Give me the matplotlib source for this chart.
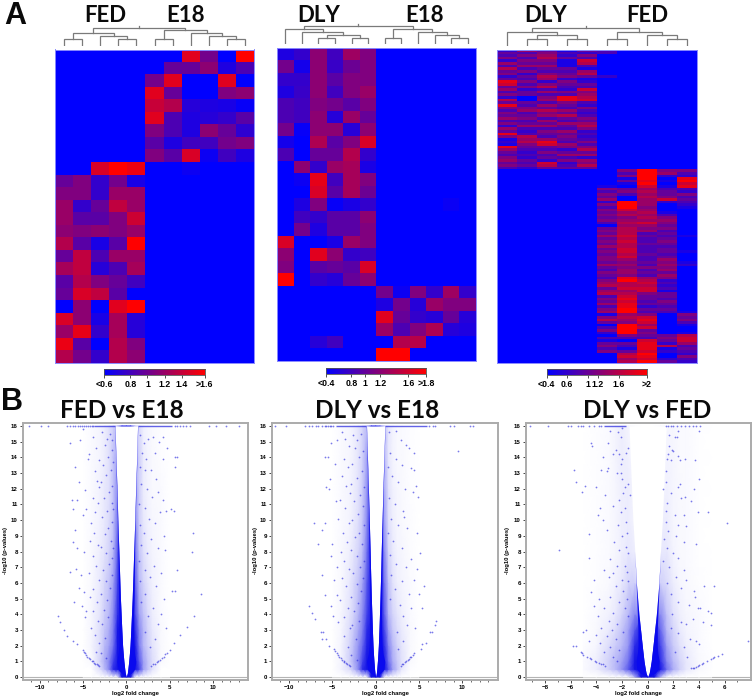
"""
Heatmaps (A) and volcano plots (B) for FED / DLY / E18 comparisons.

Outputs:
    out.png
"""

from __future__ import annotations

import matplotlib.pyplot as plt
import numpy as np
from matplotlib.colors import LinearSegmentedColormap

W, H = 754, 697

# --- Heatmap values, 0 (blue) to 1 (red) ---
fed_e18_cells = [
    [0, 0, 0, 0, 0, 0, 0, .88, .45, 0, 1],
    [0, 0, 0, 0, 0, 0, .4, .4, .55, .12, .3],
    [0, 0, 0, 0, 0, .45, .88, 0, 0, .88, 0],
    [0, 0, 0, 0, 0, .88, .4, 0, 0, .5, .55],
    [0, 0, 0, 0, 0, .78, .7, .15, .12, .1, .03],
    [0, 0, 0, 0, 0, .88, .3, .12, .15, .2, .35],
    [0, 0, 0, 0, 0, .5, .3, .12, .55, .4, .18],
    [0, 0, 0, 0, 0, .35, .12, .25, .25, .45, .5],
    [0, 0, 0, 0, 0, .5, .35, .85, .05, .25, .12],
    [0, 0, .85, 1, .93, 0, 0, .05, 0, 0, 0],
    [.4, .5, .2, .45, .1, 0, 0, 0, 0, 0, 0],
    [.5, .5, .2, .6, .6, 0, 0, 0, 0, 0, 0],
    [.6, .2, .4, .75, .6, 0, 0, 0, 0, 0, 0],
    [.6, .35, .35, .5, .8, 0, 0, 0, 0, 0, 0],
    [.55, .5, .55, .5, .6, 0, 0, 0, 0, 0, 0],
    [.7, .35, .1, .35, 1, 0, 0, 0, 0, 0, 0],
    [.4, .75, .3, .6, .6, 0, 0, 0, 0, 0, 0],
    [.65, .75, .15, .3, .65, 0, 0, 0, 0, 0, 0],
    [.35, .7, .5, .4, .25, 0, 0, 0, 0, 0, 0],
    [.4, .85, .75, .35, 0, 0, 0, 0, 0, 0, 0],
    [0, .55, 0, .88, 1, 0, 0, 0, 0, 0, 0],
    [.85, .55, .1, .65, .15, 0, 0, 0, 0, 0, 0],
    [.6, .9, .2, .65, .15, 0, 0, 0, 0, 0, 0],
    [.92, .35, 0, .7, .5, 0, 0, 0, 0, 0, 0],
    [.7, .45, .2, .7, .55, 0, 0, 0, 0, 0, 0],
]

dly_e18_cells = [
    [.12, .2, .55, .25, .62, .5, 0, 0, 0, 0, 0, 0],
    [.45, .08, .55, .22, .42, .5, 0, 0, 0, 0, 0, 0],
    [.2, .2, .55, .35, .5, .5, 0, 0, 0, 0, 0, 0],
    [.12, .22, .55, .25, .5, .6, 0, 0, 0, 0, 0, 0],
    [.3, .25, .5, .45, .35, .5, 0, 0, 0, 0, 0, 0],
    [.3, .25, .55, .15, .6, .4, 0, 0, 0, 0, 0, 0],
    [.45, .03, .55, .55, .15, .55, 0, 0, 0, 0, 0, 0],
    [.08, 0, .68, .35, .5, .85, 0, 0, 0, 0, 0, 0],
    [.3, 0, .4, .4, .7, .2, 0, 0, 0, 0, 0, 0],
    [0, .55, .2, .6, .65, .1, 0, 0, 0, 0, 0, 0],
    [0, .05, .9, .25, .65, .5, 0, 0, 0, 0, 0, 0],
    [0, 0, .85, .35, .65, .42, 0, 0, 0, 0, 0, 0],
    [0, .12, .5, .03, .1, .2, 0, 0, 0, 0, .04, 0],
    [0, .25, .2, .35, .35, .55, 0, 0, 0, 0, 0, 0],
    [0, .45, .12, .35, .35, .5, 0, 0, 0, 0, 0, 0],
    [.85, 0, 0, .1, .6, .5, 0, 0, 0, 0, 0, 0],
    [.55, 0, .88, .55, .2, .25, 0, 0, 0, 0, 0, 0],
    [.5, 0, .35, .4, .35, .85, 0, 0, 0, 0, 0, 0],
    [1, 0, .2, .15, .4, .55, 0, 0, 0, 0, 0, 0],
    [0, 0, 0, 0, 0, 0, .45, .05, .5, .2, .62, .2],
    [0, 0, 0, 0, 0, 0, .12, .45, .15, .6, .5, .5],
    [0, 0, 0, 0, 0, 0, .88, .4, .2, .15, .4, .15],
    [0, 0, 0, 0, 0, 0, .6, .3, .5, .68, .15, .12],
    [0, 0, .15, .25, 0, 0, 0, .7, .72, 0, 0, 0],
    [0, 0, 0, 0, 0, 0, 1, 1, 0, 0, 0, 0],
]

# tenths, columns DLY x5
dly_fed_top = [
    [2, 6, 4, 1, 4], [4, 3, 5, 3, 2], [3, 5, 6, 2, 5], [5, 3, 7, 4, 3], [2, 5, 5, 1, 8],
    [6, 4, 4, 1, 7], [3, 6, 6, 1, 3], [7, 3, 4, 4, 1], [4, 5, 3, 3, 6], [5, 2, 5, 4, 7],
    [2, 4, 7, 5, 4], [4, 3, 6, 2, 1], [9, 5, 2, 5, 2], [8, 3, 5, 4, 4], [4, 5, 7, 3, 3],
    [6, 2, 3, 2, 8], [3, 4, 6, 5, 5], [5, 4, 3, 3, 6], [2, 0, 5, 9, 7], [7, 0, 6, 9, 8],
    [4, 4, 3, 5, 3], [9, 3, 6, 4, 2], [5, 5, 4, 3, 5], [3, 6, 7, 6, 3], [5, 3, 5, 4, 2],
    [4, 4, 6, 7, 3], [6, 5, 3, 4, 5], [3, 3, 6, 3, 4], [5, 4, 4, 6, 6], [2, 6, 6, 4, 7],
    [6, 3, 3, 3, 5], [4, 2, 5, 6, 2], [9, 3, 4, 4, 3], [5, 7, 3, 5, 2], [1, 6, 6, 4, 3],
    [2, 7, 9, 3, 5], [1, 5, 8, 6, 3], [9, 4, 4, 5, 5], [6, 3, 3, 2, 7], [4, 2, 5, 4, 4],
    [3, 3, 3, 6, 6], [5, 2, 4, 3, 2], [6, 4, 2, 5, 6], [4, 3, 8, 2, 5], [5, 4, 7, 3, 7],
    [3, 2, 4, 4, 4],
]

# tenths, columns FED x5
dly_fed_bottom = [
    [0, 5, 10, 5, 5], [0, 3, 10, 6, 3], [0, 5, 10, 2, 2], [0, 1, 10, 0, 9], [0, 4, 9, 1, 10],
    [0, 1, 10, 0, 8], [1, 0, 8, 1, 9], [5, 4, 6, 3, 3], [3, 5, 7, 4, 2], [5, 3, 6, 4, 5],
    [4, 0, 7, 5, 3], [6, 0, 6, 8, 4], [2, 10, 6, 2, 3], [5, 10, 6, 0, 2], [3, 10, 5, 0, 1],
    [5, 8, 6, 0, 0], [4, 6, 7, 1, 0], [5, 7, 6, 3, 0], [4, 5, 7, 5, 0], [5, 6, 6, 6, 0],
    [3, 7, 8, 5, 0], [0, 6, 6, 4, 0], [4, 7, 5, 5, 0], [5, 7, 6, 3, 0], [4, 7, 3, 4, 0],
    [6, 8, 4, 3, 1], [4, 7, 3, 4, 0], [5, 8, 3, 5, 0], [4, 7, 4, 4, 0], [6, 7, 3, 3, 0],
    [4, 8, 3, 4, 0], [5, 8, 3, 4, 1], [4, 7, 4, 3, 0], [5, 8, 3, 4, 0], [5, 6, 3, 6, 0],
    [4, 5, 4, 5, 1], [6, 6, 3, 6, 2], [4, 5, 5, 5, 0], [3, 6, 3, 6, 0], [5, 6, 4, 4, 0],
    [4, 5, 3, 6, 0], [3, 9, 6, 5, 0], [5, 10, 7, 2, 0], [6, 7, 8, 3, 0], [7, 7, 7, 2, 0],
    [4, 8, 8, 3, 0], [6, 6, 8, 1, 0], [7, 7, 5, 4, 0], [3, 8, 4, 4, 0], [5, 9, 4, 3, 0],
    [4, 8, 3, 5, 0], [6, 9, 4, 4, 0], [3, 9, 2, 3, 0], [5, 10, 4, 4, 0], [6, 10, 3, 3, 1],
    [1, 6, 5, 0, 5], [5, 7, 8, 0, 4], [7, 6, 9, 0, 5], [4, 5, 8, 0, 3], [0, 10, 6, 0, 1],
    [3, 10, 8, 0, 0], [5, 10, 4, 0, 0], [2, 10, 5, 0, 1], [0, 5, 4, 4, 7], [3, 3, 3, 5, 8],
    [1, 0, 8, 4, 8], [4, 4, 9, 2, 6], [5, 3, 9, 7, 3], [3, 1, 9, 1, 4], [5, 4, 8, 2, 3],
    [0, 7, 10, 0, 2], [0, 8, 9, 0, 5], [0, 6, 8, 2, 3], [0, 7, 10, 4, 2],
]

# --- Dendrograms: (left, right, merge height), leaves are column numbers ---
fed_e18_tree = (
    (((0, 1, 6.3), (2, (3, 4, 6.3), 9.7), 12.3)),
    ((5, 6, 6.3), (7, (8, (9, 10, 6.3), 9.7), 12.3), 15.3),
    17.3,
)
dly_e18_tree = (
    (0, (1, ((2, 3, 6), (4, 5, 6), 9.3), 12), 15),
    ((6, 7, 6), (8, (9, (10, 11, 6), 9.3), 12), 15),
    18.3,
)
dly_fed_tree = (
    (0, ((1, 2, 6.3), (3, 4, 6.3), 10.3), 14),
    ((5, 6, 6.3), (7, (8, 9, 6.3), 10.3), 14),
    17.3,
)

# --- Colour bars: tick place along the bar (0-1) and label ---
cb1_pos = [0, .26, .43, .6, .77, 1]
cb1_labels = ["<0.6", "0.8", "1", "1.2", "1.4", ">1.6"]
cb2_pos = [0, .25, .39, .54, .82, 1]
cb2_labels = ["<0.4", "0.8", "1", "1.2", "1.6", ">1.8"]
cb3_pos = [0, .2, .41, .51, .72, 1]
cb3_labels = ["<0.4", "0.6", "1", "1.2", "1.6", ">2"]

# --- Volcano funnels: |log2 FC| at each -log10 p ---
b1_y = [0, .25, .5, 1, 1.5, 2, 3, 4, 5, 6, 7, 8, 10, 12, 14, 16]
b1_inner = [0, .12, .18, .28, .36, .43, .52, .6, .68, .74, .8, .86, .98, 1.08, 1.2, 1.3]
b1_dense = [0, .6, .95, 1.1, .95, .85, .85, .85, .9, .92, .94, .96, 1.02, 1.12, 1.23, 1.32]
b2_y = b1_y
b2_inner = [0, .08, .13, .2, .26, .31, .38, .44, .5, .55, .6, .64, .74, .84, .95, 1.06]
b2_dense = [0, .6, .95, 1.05, .85, .75, .7, .68, .7, .72, .74, .76, .8, .88, .98, 1.08]
b3_y = [0, .25, .5, 1, 1.5, 2, 3, 4, 5, 6, 8, 10, 12, 14, 16]
b3_inner = [0, .12, .18, .28, .35, .42, .55, .68, .78, .88, 1, 1.15, 1.25, 1.35, 1.45]
b3_dense = [0, .6, .85, .9, .8, .75, .75, .8, .85, .9, 1, 1.15, 1.25, 1.35, 1.45]

# --- Haze of dots around the funnels, read as coverage in tenths ---
haze_x = [-5, -4, -3, -2.5, -2, -1.5, -1, -.5, 0, .5, 1, 1.5, 2, 2.5, 3, 4, 5]
haze_y = [0, .5, 1, 2, 3, 4, 6, 8, 10, 12, 14, 16]
b1_haze = [
    [0, 0, 0, 0, 0, 0, 0, 10, 10, 10, 0, 0, 0, 0, 0, 0, 0],
    [0, 0, 1.5, 3, 5, 9, 10, 10, 10, 10, 10, 8, 4, 2.5, 1.2, 0, 0],
    [0, .3, 2, 3.5, 5, 8, 10, 10, 10, 10, 10, 7, 4, 2.5, 1.5, .3, 0],
    [0, .5, 1.5, 3, 4, 6, 10, 10, 10, 10, 10, 5.5, 3, 2, 1.2, .3, 0],
    [0, .4, 1.5, 2.5, 3.5, 5.5, 10, 10, 10, 10, 9, 5, 3, 1.8, 1, .3, 0],
    [0, .4, 1.2, 2.2, 3, 5, 9, 10, 10, 10, 8, 4, 2.5, 1.5, .8, .2, 0],
    [0, .3, 1, 1.8, 2.5, 4, 8, 10, 10, 10, 7, 3, 1.8, 1.1, .6, .2, 0],
    [0, .3, .8, 1.2, 1.8, 3, 7, 10, 10, 10, 6, 2.5, 1.3, .8, .5, .2, 0],
    [0, .2, .6, 1, 1.5, 2.5, 6, 10, 10, 10, 5, 2, 1, .6, .4, .2, 0],
    [0, .2, .6, 1, 1.3, 2.5, 5, 10, 10, 10, 4, 2, .8, .5, .3, .2, 0],
    [0, .2, .5, .8, 1.3, 2.5, 4, 10, 10, 10, 3, 2, .8, .5, .3, .1, 0],
    [0, .2, .5, .8, 1.3, 2, 3, 10, 10, 10, 3, 1.5, .6, .4, .3, .1, 0],
]
b2_haze = [
    [0, 0, 0, 0, 0, 0, 0, 10, 10, 10, 0, 0, 0, 0, 0, 0, 0],
    [0, .5, 1.5, 3, 5, 9, 10, 10, 10, 10, 10, 7, 4, 2.5, 1, .1, 0],
    [0, .5, 2, 3.5, 5, 8, 10, 10, 10, 10, 9.5, 6, 3.5, 2.3, 1.3, .3, 0],
    [0, .5, 1.8, 3, 4.5, 6.5, 9.5, 10, 10, 10, 9, 5, 3, 1.8, 1.1, .3, 0],
    [0, .4, 1.5, 2.5, 3.8, 5.5, 9, 10, 10, 10, 8, 4, 2.3, 1.5, .9, .3, 0],
    [0, .4, 1.2, 2, 3.2, 5, 8, 10, 10, 10, 7, 3, 1.8, 1.1, .7, .2, 0],
    [0, .3, 1, 1.7, 2.5, 4, 7, 10, 10, 10, 6, 2.5, 1.2, .7, .5, .2, 0],
    [0, .3, .7, 1.2, 1.8, 3, 6, 10, 10, 10, 5, 1.7, .9, .5, .4, .15, 0],
    [0, .2, .5, .9, 1.4, 2.5, 5, 10, 10, 10, 4, 1.3, .7, .4, .3, .15, 0],
    [0, .2, .5, .8, 1.2, 2.2, 4.5, 10, 10, 9, 3.5, 1.2, .6, .4, .3, .1, 0],
    [0, .2, .4, .7, 1.1, 2, 4, 10, 10, 8, 3, 1, .5, .3, .3, .1, 0],
    [0, .2, .4, .7, 1.1, 1.8, 3, 10, 10, 8, 2.5, 1, .5, .3, .2, .1, 0],
]
b3_haze = [
    [0, 0, 0, 0, 0, 0, 3, 10, 10, 10, 3, 0, 0, 0, 0, 0, 0],
    [.2, .7, 2, 3, 4.5, 7, 10, 10, 10, 10, 10, 6, 3.5, 2, 1, .3, 0],
    [.2, .7, 2, 3, 4, 6, 10, 10, 10, 10, 9, 5, 3, 1.8, 1, .3, .1],
    [.1, .4, 1.5, 2.2, 3, 4.5, 9, 10, 10, 10, 8, 4, 2.3, 1.3, .7, .2, 0],
    [0, .3, .9, 1.5, 2.5, 4, 7, 10, 10, 10, 6.5, 3, 1.8, .9, .5, .2, 0],
    [0, .2, .6, 1, 1.8, 3, 5, 5, 5, 5, 5, 2.5, 1.3, .7, .4, .2, 0],
    [0, .1, .3, .6, 1, 1.8, 2, 1, 0, .5, 2, 1.5, .8, .4, .3, .1, 0],
    [0, .1, .2, .4, .7, 1, .8, .3, 0, .2, 1, 1, .5, .3, .2, .05, 0],
    [0, .1, .2, .4, .7, .8, .5, 0, 0, 0, .8, .8, .4, .3, .2, .05, 0],
    [0, .1, .2, .4, .7, .8, .4, 0, 0, 0, .4, .6, .4, .3, .2, .05, 0],
    [0, .1, .2, .5, .8, .6, .2, 0, 0, 0, .3, .5, .4, .2, .2, .05, 0],
    [0, .1, .2, .5, .8, .5, .1, 0, 0, 0, .2, .4, .4, .2, .2, .05, 0],
]

# --- Points along the top edge (p capped) ---
b1_top_x = [-11.2, -9.9, -9.0, -6.8, -6.5, -6.2, -5.9, -5.6, -5.3, -5.1, -4.9, -4.6, -4.4, -4.2, -4.0, -3.8,
            5.6, 5.9, 6.2, 6.6, 6.9, 7.3, 9.5, 10.4, 11.5, 13.0]
b1_top_band = [(-3.7, -1.3), (1.3, 5.3)]
b2_top_x = [-11.6, -10.4, -8.1, -7.7, -7.3, -6.9, -6.6, -6.2, -5.9, -5.7, -5.5, -5.3, -5.1, -4.9,
            6.2, 6.6, 6.9, 8.6, 9.0, 10.9, 11.2]
b2_top_band = [(-4.6, -1.1), (1.1, 5.9)]
b3_top_x = [-9.2, -7.8, -6.2, -6.0, -5.4, -5.2, -5.0, -4.6, -4.2, -3.8, -3.6,
            1.4, 1.6, 1.8, 2.0, 2.3, 2.6, 2.9, 3.2, 3.5, 3.8, 4.1]
b3_top_band = [(-3.4, -1.7)]

# --- Single points (log2 FC, -log10 p) ---
b1_pts = [
    (-7.9, 3.9), (-7.6, 3.5), (-7.2, 3.0), (-6.8, 2.6), (-6.2, 2.3), (-5.7, 2.1), (-5.0, 1.7), (-4.8, 1.5),
    (-4.5, 1.3), (-4.2, 1.15), (-3.9, 1.0), (-3.6, .85), (-3.3, .75), (-3.1, .7), (-4.9, 1.6), (-4.6, 1.4),
    (-4.3, 1.2), (-4.0, 1.05), (-3.7, .9), (-3.4, .8),
    (2.9, .7), (3.3, .85), (3.7, 1.0), (4.1, 1.2), (4.5, 1.45), (5.0, 1.7), (5.5, 2.2), (6.2, 2.7), (7.0, 3.2),
    (7.8, 3.9), (3.1, .8), (3.5, .95), (3.9, 1.1), (4.3, 1.3), (4.7, 1.55),
    (-6.5, 14.9), (-5.4, 15.1), (-5.0, 15.8), (-4.3, 14.2), (-4.4, 13.9), (-5.9, 13.4), (-5.5, 12.4),
    (-4.8, 11.9), (-6.3, 11.3), (-5.7, 11.3), (-6.2, 10.7), (-5.0, 10.3), (-4.7, 10.7), (-5.9, 9.4),
    (-6.1, 8.6), (-5.7, 8.2), (-4.9, 8.0), (-5.8, 6.9), (-6.5, 6.7), (-5.2, 6.5), (-5.5, 5.7), (-4.9, 5.4),
    (-6.0, 4.8), (-5.1, 4.5), (-4.8, 3.8), (-4.6, 4.2), (-3.9, 15.3), (-3.5, 14.6), (-3.1, 13.8), (-3.6, 13.1),
    (-3.4, 12.5), (-3.2, 12.1), (-3.9, 11.4), (-3.3, 11.1), (-3.6, 10.5), (-4.1, 9.8), (-3.7, 9.2), (-4.2, 8.7),
    (-3.3, 8.4), (-3.9, 7.7), (-3.5, 7.1), (-4.3, 6.6), (-3.2, 6.2), (-3.8, 5.6), (-4.2, 5.1), (-3.4, 4.8),
    (-3.9, 4.2), (-3.3, 3.6), (-4.1, 3.1), (-3.6, 2.7), (-3.1, 2.2), (-3.5, 1.6),
    (-2.8, 15.6), (-2.2, 15.2), (-1.9, 15.5), (-2.5, 14.8), (-1.7, 14.5), (-2.1, 14.0), (-2.7, 13.5), (-1.8, 13.2),
    (-2.3, 12.9), (-2.9, 12.4), (-1.6, 12.2), (-2.0, 11.8), (-2.6, 11.4), (-1.7, 11.1), (-2.2, 10.6), (-2.8, 10.2),
    (-1.6, 9.9), (-2.1, 9.5), (-2.5, 9.1), (-1.8, 8.7), (-2.9, 8.3), (-2.3, 7.9), (-1.6, 7.6), (-2.0, 7.2),
    (-2.7, 6.8), (-1.7, 6.5), (-2.4, 6.1), (-1.9, 5.7), (-2.9, 5.3), (-2.2, 4.9), (-1.6, 15.1), (-1.5, 13.7),
    (-1.5, 10.7), (-1.5, 8.2), (-2.6, 4.3), (-2.1, 3.8), (-2.8, 3.4), (-2.5, 2.5), (-2.9, 1.5), (-2.4, 1.2),
    (1.6, 15.4), (2.0, 14.9), (2.5, 15.2), (3.1, 15.3), (3.8, 15.0), (4.2, 15.3), (1.8, 14.3), (2.3, 13.9),
    (1.6, 13.4), (2.1, 13.2), (2.8, 13.2), (3.4, 12.6), (1.7, 12.3), (2.4, 12.0), (3.0, 11.5), (3.7, 11.8),
    (4.2, 11.3), (4.6, 10.6), (1.5, 11.0), (2.2, 10.8), (3.9, 10.5), (5.2, 10.7), (5.5, 10.6), (2.6, 10.1),
    (1.6, 9.7), (3.3, 9.8), (2.0, 9.2), (2.9, 8.8), (4.3, 9.0), (7.7, 9.2), (1.7, 8.4), (3.6, 8.2), (2.4, 7.9),
    (4.5, 8.1), (7.6, 8.0), (1.5, 7.4), (3.2, 7.1), (2.1, 6.8), (4.0, 6.6), (5.8, 6.8), (2.7, 6.4), (1.6, 6.1),
    (3.4, 5.8), (5.3, 5.5), (5.6, 5.5), (2.2, 5.3), (4.4, 5.0), (8.6, 5.3), (1.7, 4.8), (3.1, 4.4), (2.5, 3.9),
    (4.0, 4.0), (3.6, 3.4), (4.6, 3.1), (2.2, 2.9), (3.3, 2.4), (2.7, 1.9), (5.6, 14.0), (5.9, 14.0), (5.6, 13.4),
    (4.7, 14.6), (4.2, 13.9), (3.3, 14.3),
]

b2_pts = [
    (-7.7, 4.5), (-7.4, 4.1), (-7.0, 3.7), (-6.3, 2.9), (-6.1, 2.9), (-6.2, 2.4), (-5.7, 2.4), (-5.4, 2.0),
    (-4.8, 1.8), (-4.5, 1.5), (-4.2, 1.3), (-3.9, 1.1), (-3.6, .95), (-3.3, .85), (-3.0, .7), (-4.7, 1.65),
    (-4.3, 1.4), (-4.0, 1.2), (-3.7, 1.0), (-3.4, .9), (-3.1, .75),
    (2.9, .7), (3.2, .85), (3.5, 1.0), (3.8, 1.15), (4.1, 1.3), (4.4, 1.5), (5.2, 1.8), (5.3, 2.1), (5.8, 2.2),
    (6.3, 2.9), (6.5, 2.9), (6.9, 3.3), (7.0, 3.6), (3.0, .8), (3.4, .95), (3.7, 1.1), (4.0, 1.25), (4.3, 1.4),
    (-5.2, 14.9), (-4.5, 15.1), (-3.9, 15.6), (-5.5, 14.0), (-5.8, 14.0), (-4.7, 13.6), (-5.3, 12.6), (-5.7, 12.1),
    (-5.4, 12.0), (-4.6, 11.2), (-7.1, 9.8), (-5.9, 9.8), (-6.2, 9.4), (-6.7, 8.5), (-5.0, 8.5), (-5.2, 7.7),
    (-4.5, 7.0), (-6.2, 6.5), (-4.8, 6.2), (-5.8, 5.2), (-4.5, 5.2), (-5.2, 4.5), (-4.9, 3.9), (-4.3, 3.5),
    (-3.5, 15.2), (-3.1, 14.7), (-3.7, 13.9), (-3.2, 13.4), (-3.9, 12.8), (-3.4, 12.2), (-3.0, 11.7), (-4.1, 11.3),
    (-3.5, 10.8), (-4.3, 10.1), (-3.1, 9.8), (-3.8, 9.2), (-3.3, 8.6), (-4.0, 8.0), (-3.6, 7.4), (-3.1, 6.9),
    (-3.9, 6.3), (-3.4, 5.8), (-4.1, 4.9), (-3.2, 4.4), (-3.7, 3.8), (-3.0, 3.1), (-3.6, 2.6), (-3.2, 1.9),
    (-2.6, 15.4), (-2.1, 15.1), (-1.7, 15.5), (-2.4, 14.6), (-1.5, 14.4), (-1.9, 14.0), (-2.7, 13.6), (-1.6, 13.1),
    (-2.2, 12.7), (-2.8, 12.3), (-1.4, 12.1), (-1.8, 11.6), (-2.5, 11.2), (-1.5, 10.9), (-2.0, 10.4), (-2.7, 10.0),
    (-1.4, 9.7), (-1.9, 9.2), (-2.4, 8.9), (-1.6, 8.5), (-2.8, 8.1), (-2.1, 7.7), (-1.4, 7.4), (-1.8, 7.0),
    (-2.6, 6.6), (-1.5, 6.3), (-2.2, 5.9), (-1.7, 5.5), (-2.9, 5.1), (-2.0, 4.7), (-2.5, 4.2), (-1.9, 3.6),
    (-2.7, 3.3), (-2.3, 2.4), (-2.8, 1.4), (-2.2, 1.1),
    (1.5, 15.6), (2.3, 15.7), (2.9, 15.1), (3.5, 14.8), (3.9, 14.6), (4.4, 14.3), (9.5, 14.4), (1.7, 14.3),
    (2.4, 13.9), (1.4, 13.4), (3.0, 13.5), (4.1, 13.3), (4.4, 13.2), (1.9, 12.8), (2.6, 12.4), (4.6, 12.2),
    (3.4, 12.0), (4.3, 11.8), (4.9, 11.5), (1.5, 11.4), (2.2, 11.0), (3.1, 10.6), (1.8, 10.1), (3.3, 10.2),
    (2.6, 9.7), (1.4, 9.2), (3.6, 9.5), (4.8, 9.2), (2.0, 8.7), (3.0, 8.2), (5.1, 7.9), (1.6, 7.8), (4.1, 7.5),
    (2.4, 7.2), (3.5, 7.0), (4.8, 6.9), (1.8, 6.5), (3.0, 6.1), (4.4, 6.2), (5.6, 5.8), (2.2, 5.6), (3.8, 5.3),
    (5.0, 5.3), (1.6, 5.0), (2.8, 4.6), (4.1, 4.4), (5.4, 4.4), (3.2, 3.9), (3.6, 3.3), (4.5, 3.1), (2.5, 2.9),
    (3.1, 2.3), (2.6, 1.8),
]

b3_pts = [
    (-5.2, 1.6), (-5.0, 1.4), (-4.7, 1.25), (-4.4, 1.15), (-4.1, 1.0), (-3.8, .9), (-3.5, .8), (-3.3, .7),
    (-5.1, 1.5), (-4.5, 1.2), (-4.0, .95), (-3.6, .85), (-5.8, 2.0), (-5.6, 2.0), (-4.6, 2.3), (-5.0, 2.9), (-4.8, 3.0),
    (3.4, .55), (3.6, .6), (3.8, .65), (4.0, .75), (4.3, .9), (4.6, 1.0), (4.9, 1.15), (5.2, 1.25), (5.5, 1.35),
    (5.8, 1.45), (3.5, .58), (3.9, .7), (4.2, .85), (5.1, 1.2), (7.8, 2.3), (4.0, 2.1),
    (-2.9, 15.7), (-2.3, 15.6), (-2.0, 15.9), (-2.1, 15.3), (-3.1, 14.9), (-4.4, 14.9), (-4.3, 14.7), (-2.5, 14.5),
    (-1.5, 14.6), (-2.7, 14.2), (-2.2, 14.2), (-1.7, 14.3), (-3.5, 14.0), (-2.0, 13.9), (-2.1, 13.6), (-3.6, 13.2),
    (-3.1, 13.3), (-3.2, 13.1), (-2.4, 13.0), (-2.1, 13.0), (-5.7, 13.2), (-2.0, 12.6), (-1.5, 12.3), (-1.8, 12.1),
    (-5.6, 12.4), (-4.9, 12.2), (-5.1, 11.8), (-4.0, 12.1), (-1.9, 11.7), (-1.4, 11.6), (-3.3, 11.6), (-2.2, 11.3),
    (-2.7, 10.9), (-1.8, 10.8), (-3.7, 10.8), (-2.1, 10.5), (-3.9, 10.3), (-3.5, 10.0), (-1.7, 9.9), (-2.3, 9.7),
    (-3.2, 9.4), (-1.6, 9.2), (-2.0, 9.0), (-4.6, 9.1), (-2.6, 8.6), (-1.7, 8.3), (-2.2, 8.1), (-6.9, 8.1),
    (-1.5, 7.9), (-2.9, 7.5), (-4.6, 7.6), (-1.8, 7.1), (-2.4, 7.1), (-3.4, 6.8), (-1.6, 6.7), (-2.7, 6.6), (-3.0, 6.4),
    (-4.2, 6.2), (-2.0, 6.2), (-1.5, 6.1), (-2.5, 5.8), (-1.9, 5.5), (-4.4, 5.4), (-3.8, 5.0), (-2.9, 5.1), (-1.6, 5.0),
    (-2.2, 4.8), (-4.2, 4.5), (-3.4, 4.4), (-1.8, 4.4), (-2.7, 4.1), (-3.9, 3.9), (-1.5, 3.9), (-3.0, 3.6), (-2.4, 3.4),
    (-3.6, 3.1), (-2.8, 3.0), (-1.9, 2.9), (-4.0, 2.7), (-3.2, 2.6), (-2.5, 2.4), (-3.7, 2.2), (-2.9, 1.9), (-2.2, 1.7),
    (-3.4, 1.6), (-2.7, 1.3), (-2.4, 1.0),
    (4.0, 15.7), (2.4, 15.7), (1.7, 15.4), (2.1, 15.3), (2.3, 15.3), (1.7, 14.7), (1.9, 14.5), (2.0, 14.4), (1.6, 14.2),
    (2.4, 14.1), (1.5, 13.9), (1.8, 13.8), (2.5, 13.8), (2.9, 13.9), (3.7, 13.8), (1.4, 13.1), (4.0, 12.6), (1.4, 12.4),
    (2.5, 12.3), (2.4, 12.1), (3.6, 12.0), (1.2, 12.0), (1.8, 11.7), (2.9, 11.5), (2.6, 11.4), (3.4, 11.2), (1.5, 11.1),
    (1.4, 10.6), (3.9, 10.5), (4.7, 10.5), (2.1, 10.3), (2.8, 10.3), (6.2, 9.8), (1.4, 9.9), (2.4, 9.7), (3.0, 9.6),
    (1.6, 9.3), (2.2, 9.0), (1.3, 8.8), (3.8, 8.5), (2.8, 8.6), (1.5, 8.2), (2.0, 7.9), (2.4, 7.6), (1.2, 7.4),
    (1.7, 7.0), (2.8, 6.8), (2.2, 6.4), (3.0, 6.2), (1.5, 6.0), (2.6, 5.7), (4.4, 5.8), (5.2, 5.8), (3.6, 5.5), (1.8, 5.3),
    (3.7, 5.1), (2.4, 4.8), (3.2, 4.6), (4.1, 4.4), (3.9, 4.4), (4.7, 4.2), (4.9, 4.1), (1.9, 4.0), (3.5, 3.7), (2.6, 3.5),
    (3.0, 3.4), (4.3, 3.5), (4.9, 3.3), (1.8, 3.1), (2.4, 2.8), (3.3, 2.4), (3.8, 2.3), (2.8, 1.9), (2.1, 1.6), (3.1, 1.3),
]

BLUE_RED = LinearSegmentedColormap.from_list("br", ["#0000ff", "#ff0000"])
HAZE = LinearSegmentedColormap.from_list("haze", ["#ffffff", "#1414e6"])
TITLE_FONT = "Lato"
DOT = "#2222dd"


def px_axes(fig, x0, y0, x1, y1):
    # pixel box, y measured from the top of the picture
    return fig.add_axes([x0 / W, 1 - y1 / H, (x1 - x0) / W, (y1 - y0) / H])


def draw_tree(ax, node):
    if isinstance(node, int):
        return node, 0
    lx, lh = draw_tree(ax, node[0])
    rx, rh = draw_tree(ax, node[1])
    h = node[2]
    ax.plot([lx, lx, rx, rx], [lh, h, h, rh], color="#7a7a7a", lw=0.9, solid_joinstyle="miter")
    return (lx + rx) / 2, h


def heat_panel(fig, box, cells, tree, dendro_base, bar_box, tick_pos, tick_labels):
    ax = px_axes(fig, *box)
    data = np.array(cells, dtype=float)
    ax.imshow(data, cmap=BLUE_RED, vmin=0, vmax=1, aspect="auto", interpolation="nearest")
    ax.set_xticks([])
    ax.set_yticks([])
    for s in ax.spines.values():
        s.set_color("#8a8aff")
        s.set_linewidth(0.7)

    tax = px_axes(fig, box[0], dendro_base - 24, box[2], dendro_base)
    root_x, root_h = draw_tree(tax, tree)
    tax.plot([root_x, root_x], [root_h, root_h + 2.5], color="#7a7a7a", lw=0.9)
    tax.set_xlim(-0.5, data.shape[1] - 0.5)
    tax.set_ylim(0, 24)
    tax.axis("off")

    cax = px_axes(fig, *bar_box)
    cax.imshow(np.linspace(0, 1, 256)[None, :], cmap=BLUE_RED, aspect="auto", extent=[0, 1, 0, 1])
    cax.set_yticks([])
    cax.set_xticks(tick_pos)
    cax.set_xticklabels(tick_labels, fontsize=6.3, fontweight="bold", family="Liberation Sans")
    cax.tick_params(axis="x", length=2, width=0.6, pad=1.5, color="#333333")
    for s in cax.spines.values():
        s.set_color("#555555")
        s.set_linewidth(0.6)


def volcano(fig, box, xlim, major, minor, y_lev, inner, dense, haze, top_x, top_band, pts, ylab_x):
    ax = px_axes(fig, *box)
    y_lev = np.array(y_lev)
    inner, dense = np.array(inner), np.array(dense)

    ax.pcolormesh(haze_x, haze_y, np.array(haze), shading="gouraud", cmap=HAZE, vmin=0, vmax=10, zorder=1)
    # empty V between the two arms
    ax.fill_betweenx(y_lev, -inner, inner, color="white", lw=0, zorder=2)
    ax.fill_betweenx(y_lev, -dense, -inner, color="#0a0aee", lw=0, zorder=3)
    ax.fill_betweenx(y_lev, inner, dense, color="#0a0aee", lw=0, zorder=3)

    p = np.array(pts)
    ax.scatter(p[:, 0], p[:, 1], s=1.6, color=DOT, alpha=0.6, linewidths=0, zorder=4)
    ax.scatter(top_x, [16] * len(top_x), s=1.6, color=DOT, alpha=0.6, linewidths=0, zorder=4)
    for a, b in top_band:
        ax.plot([a, b], [16, 16], color=DOT, lw=1.0, alpha=0.7, solid_capstyle="butt", zorder=4)

    ax.axhline(0, color="#b4b4b4", lw=0.8, zorder=0)
    ax.set_xlim(*xlim)
    ax.set_ylim(-0.19, 16.19)
    ax.set_xticks(major)
    ax.set_xticks(minor, minor=True)
    ax.set_yticks(range(0, 17))
    ax.tick_params(axis="both", which="major", labelsize=4.4, length=2, width=0.5, pad=1.5)
    ax.tick_params(axis="x", which="minor", length=1.2, width=0.4)
    for lab in ax.get_xticklabels() + ax.get_yticklabels():
        lab.set_fontweight("bold")
        lab.set_family("Liberation Sans")
    ax.set_xlabel("log2 fold change", fontsize=4.2, fontweight="bold", family="Liberation Sans", labelpad=1)
    fig.text(ylab_x / W, 1 - 551 / H, "-log10 (p-values)", rotation=90, fontsize=4.2, fontweight="bold",
             family="Liberation Sans", ha="center", va="center")
    for s in ax.spines.values():
        s.set_color("#ababab")
        s.set_linewidth(1.4)


def big_text(fig, x, y, s, size):
    fig.text(x / W, 1 - y / H, s, fontsize=size, fontweight="bold", family=TITLE_FONT,
             ha="center", va="center", color="#0a0a0a")


def main() -> None:
    fig = plt.figure(figsize=(W / 100, H / 100), dpi=100)

    heat_panel(fig, (55, 49.5, 254, 362.5), fed_e18_cells, fed_e18_tree, 45.7,
               (104.3, 369, 204.7, 374.7), cb1_pos, cb1_labels)
    heat_panel(fig, (277, 48, 476, 361), dly_e18_cells, dly_e18_tree, 44.3,
               (326.3, 367.7, 426.3, 374.3), cb2_pos, cb2_labels)
    dly_fed_cells = [r + [0] * 5 for r in dly_fed_top] + [[0] * 5 + r for r in dly_fed_bottom]
    dly_fed = (np.array(dly_fed_cells) / 10).tolist()
    dly_fed[0][5] = dly_fed[1][5] = 0.3
    dly_fed[10][5] = 0.2
    heat_panel(fig, (497, 49.5, 696.5, 362.5), dly_fed, dly_fed_tree, 45.7,
               (546.7, 369, 646.7, 374.7), cb3_pos, cb3_labels)

    volcano(fig, (22.7, 423, 248.3, 680), (-11.96, 14.08), [-10, -5, 0, 5, 10], list(range(-11, 14)),
            b1_y, b1_inner, b1_dense, b1_haze, b1_top_x, b1_top_band, b1_pts, 6)
    volcano(fig, (271.7, 423, 498.3, 680), (-12.0, 14.15), [-10, -5, 0, 5, 10], list(range(-11, 14)),
            b2_y, b2_inner, b2_dense, b2_haze, b2_top_x, b2_top_band, b2_pts, 255)
    volcano(fig, (525.7, 423, 750.7, 680), (-9.5, 8.03), [-8, -6, -4, -2, 0, 2, 4, 6], list(range(-9, 8)),
            b3_y, b3_inner, b3_dense, b3_haze, b3_top_x, b3_top_band, b3_pts, 508)

    for x, y, s in [(105, 16, "FED"), (186, 16, "E18"), (319, 16, "DLY"), (425, 16, "E18"),
                    (546, 16, "DLY"), (647, 16, "FED")]:
        big_text(fig, x, y, s, 16)
    for x, s in [(122, "FED vs E18"), (377, "DLY vs E18"), (647, "DLY vs FED")]:
        big_text(fig, x, 410, s, 17.5)

    fig.text(15 / W, 1 - 15.5 / H, "A", fontsize=22, fontweight="bold", family="Liberation Sans",
             ha="center", va="center", color="#0a0a0a")
    fig.text(12 / W, 1 - 402 / H, "B", fontsize=22, fontweight="bold", family="Liberation Sans",
             ha="center", va="center", color="#0a0a0a")

    fig.savefig("out.png", dpi=100)
    plt.close(fig)


if __name__ == "__main__":
    main()
